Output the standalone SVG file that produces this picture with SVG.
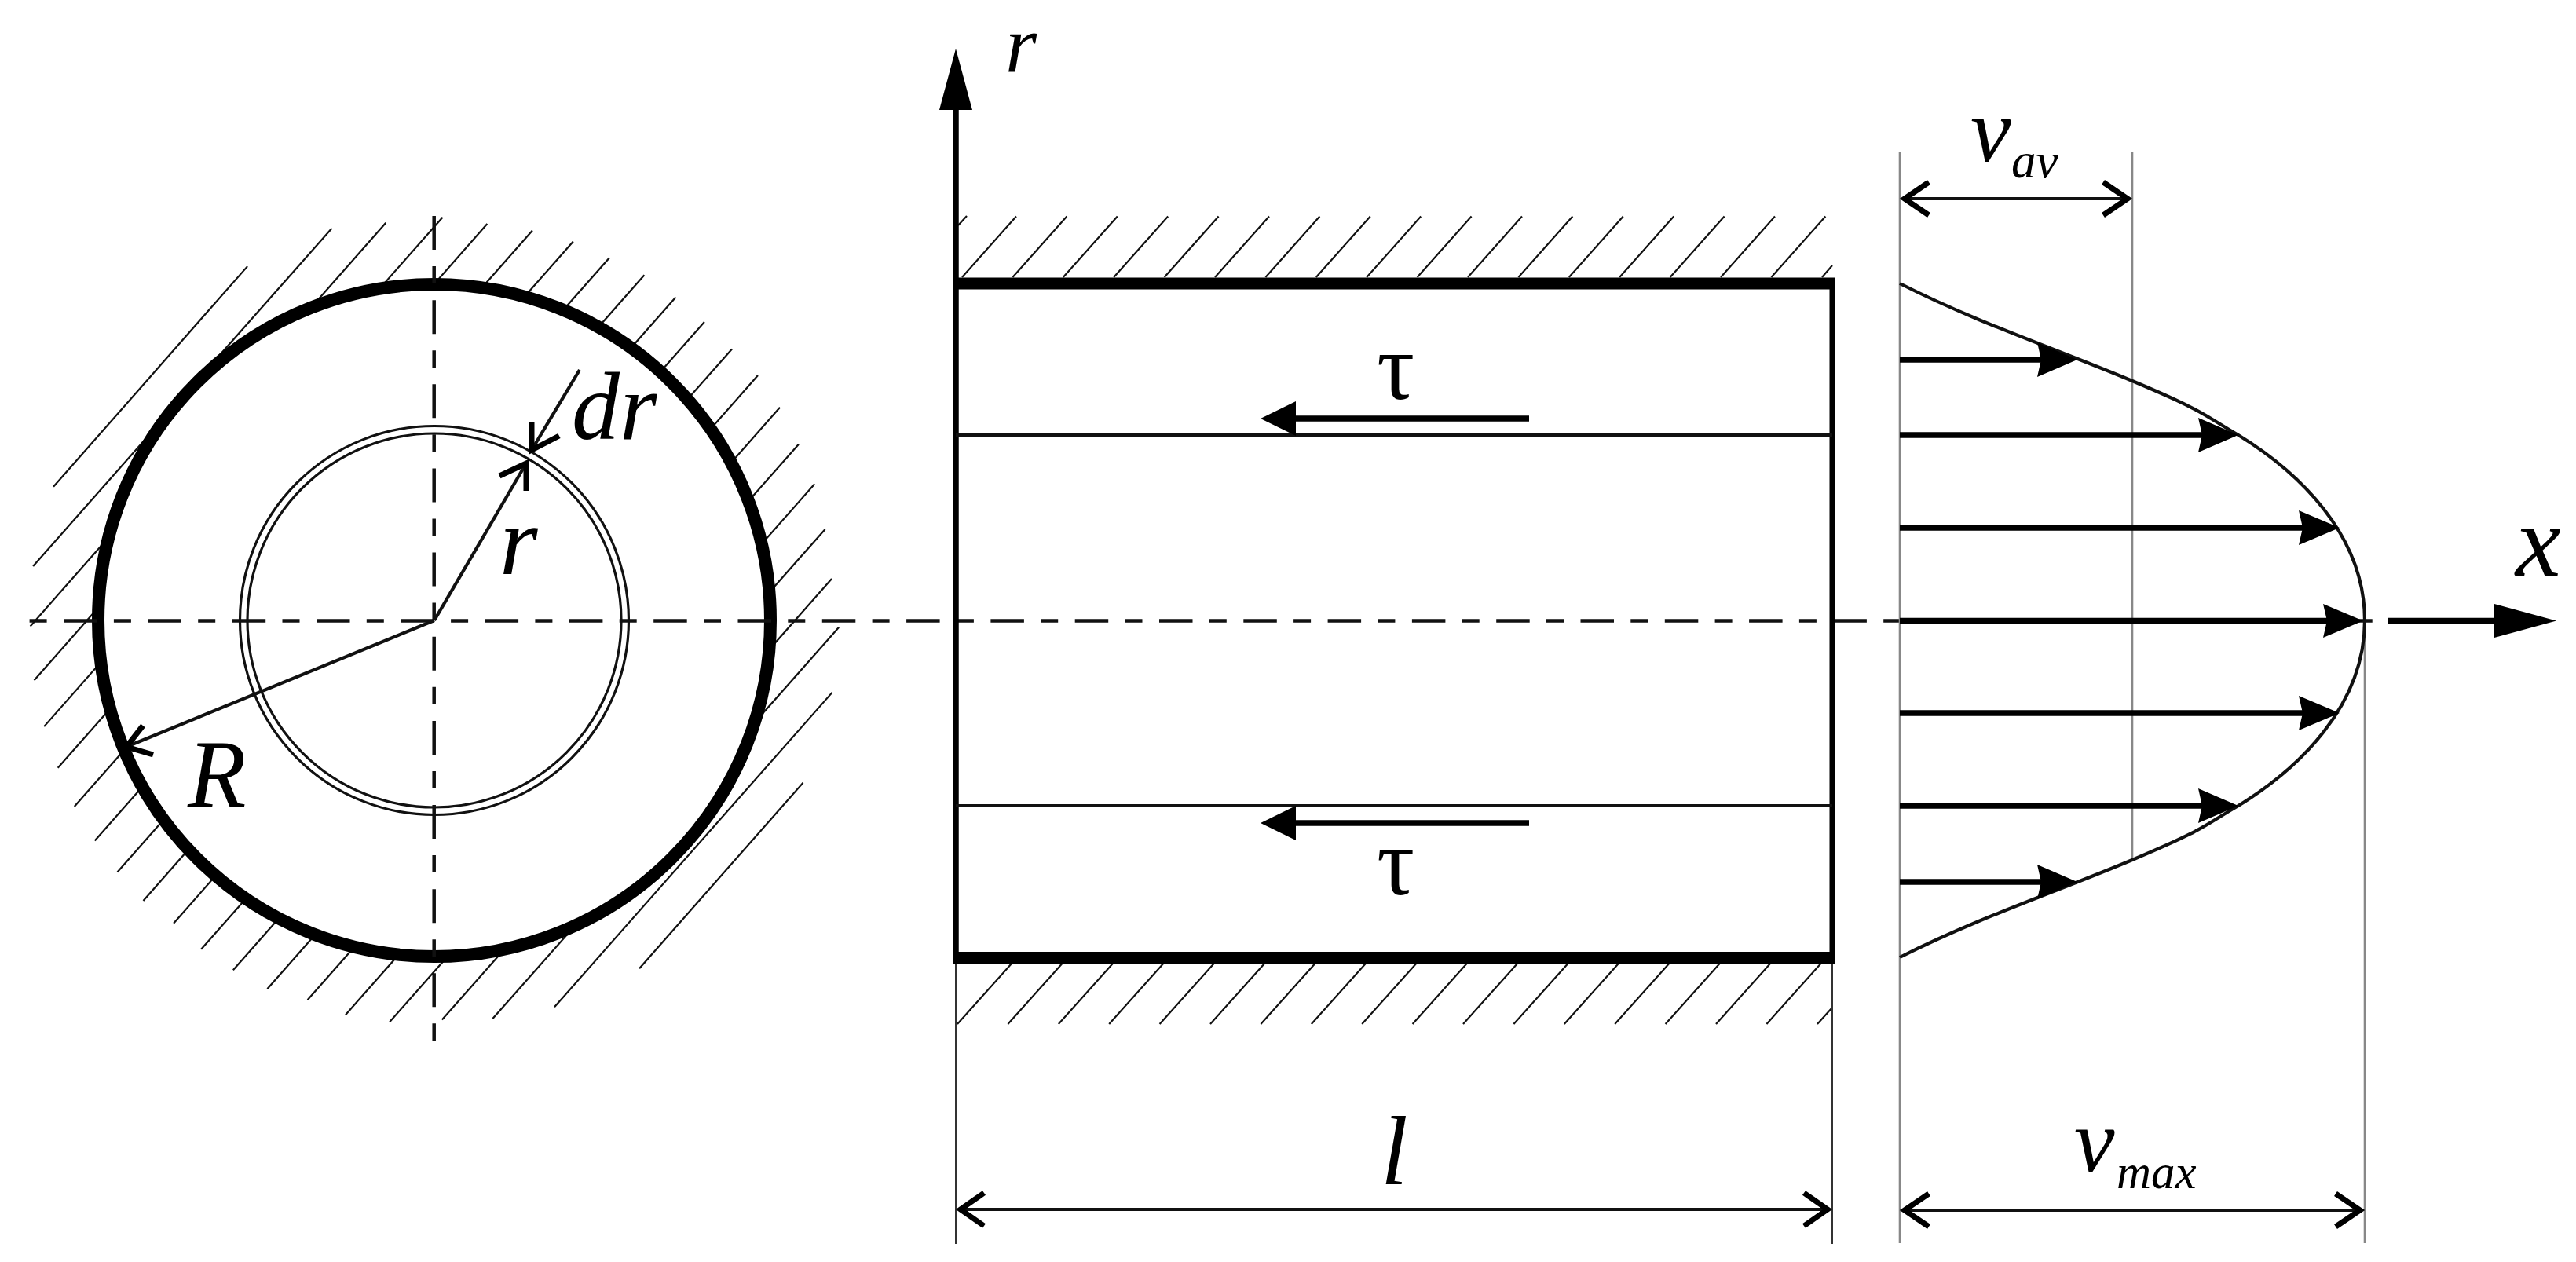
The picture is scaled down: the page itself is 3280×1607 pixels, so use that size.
<svg xmlns="http://www.w3.org/2000/svg" width="3280" height="1607" viewBox="0 0 3280 1607">
<style>
.h{stroke:#111;stroke-width:2.2;fill:none}
.z{stroke:#111;stroke-width:3.2;fill:none}
.ax{stroke:#111;stroke-width:4.5;fill:none}
.th{stroke:#000;stroke-width:7.5;fill:none}
.thin{stroke:#111;stroke-width:4.2;fill:none}
.ob{stroke:#000;stroke-width:7;fill:none}
.s{fill:#000;stroke:none}
.gr{stroke:#888;stroke-width:2.6;fill:none}
.ext{stroke:#333;stroke-width:2;fill:none}
.band{stroke:#000;stroke-width:15;fill:none}
text{font-family:"Liberation Serif","Times New Roman",serif;fill:#000}
.i{font-style:italic}
</style>
<rect width="3280" height="1607" fill="#fff"/>
<g id="pipe-section">
<g transform="translate(0 250) scale(.7018)" class="z">
<path d="M97 527L449 127M60 671L602 58M55 780L700 48M62 878L803 38M80 962L884 50M105 1037L966 62M135 1107L1040 82M172 1169L1106 111M213 1226L1169 143M260 1278L1226 183M315 1319L1278 228M365 1366L1328 277M423 1404L1375 325M485 1438L1415 383M558 1458L1449 450M627 1485L1478 522M707 1498L1497 604M802 1494L1509 694M894 1492L1522 782M1006 1471L1510 900M1160 1401L1457 1064"/>
</g>
<circle cx="553" cy="790" r="428" fill="#fff" stroke="#000" stroke-width="16"/>
<circle cx="553" cy="790" r="247.5" class="z"/>
<circle cx="553" cy="790" r="238" class="z"/>
<path class="ax" d="M552.7 275V1326" stroke-dasharray="43 21 22 21.15"/>
<path class="thin" d="M553 790L670 590"/>
<path class="ob" d="M636 606L670 590L670 625"/>
<path class="thin" d="M553 790L161 951"/>
<path class="ob" d="M182 924L161 951L195 961"/>
<path class="thin" d="M738 471L677 573"/>
<path class="ob" d="M677 538L677 573L712 555"/>
<text class="i" x="239" y="1027" font-size="122">R</text>
<text class="i" x="636" y="731" font-size="125">r</text>
<text class="i" x="728" y="559" font-size="122">dr</text>
</g>
<g id="axis-x">
<path class="ax" d="M37.6 790.5H3021" stroke-dasharray="22 21.5 42.5 21.3"/>
<path class="th" d="M3041 790.5H3180"/>
<path class="s" d="M3255 790.5L3176 769V812Z"/>
<text class="i" x="3203" y="733" font-size="130">x</text>
</g>
<g id="pipe-length">
<path class="h" d="M1220 287L1231 275M1225 353L1294 275.500M1289.400 353L1358.400 275.500M1353.800 353L1422.800 275.500M1418.200 353L1487.200 275.500M1482.600 353L1551.600 275.500M1547 353L1616 275.500M1611.400 353L1680.400 275.500M1675.800 353L1744.800 275.500M1740.200 353L1809.200 275.500M1804.600 353L1873.600 275.500M1869 353L1938 275.500M1933.400 353L2002.400 275.500M1997.800 353L2066.800 275.500M2062.200 353L2131.200 275.500M2126.600 353L2195.600 275.500M2191 353L2260 275.500M2255.400 353L2324.400 275.500M2320 353L2333 338"/>
<path class="h" d="M1219 1304L1288 1227M1283.400 1304L1352.400 1227M1347.800 1304L1416.800 1227M1412.200 1304L1481.200 1227M1476.600 1304L1545.600 1227M1541 1304L1610 1227M1605.400 1304L1674.400 1227M1669.800 1304L1738.800 1227M1734.200 1304L1803.200 1227M1798.600 1304L1867.600 1227M1863 1304L1932 1227M1927.400 1304L1996.400 1227M1991.800 1304L2060.800 1227M2056.200 1304L2125.200 1227M2120.600 1304L2189.600 1227M2185 1304L2254 1227M2249.400 1304L2318.400 1227M2314 1304L2333 1283"/>
<path class="th" d="M1217 140V1219"/>
<path class="s" d="M1217 62L1196 140H1238Z"/>
<path class="ob" d="M2333 361V1219"/>
<path class="thin" d="M1217 554H2333M1217 1026H2333"/>
<path class="band" d="M1214 361H2336M1214 1219.500H2336"/>
<path class="th" d="M1650 533H1947M1650 1048H1947"/>
<path class="s" d="M1605 533L1650 511V555ZM1605 1048L1650 1026V1070Z"/>
<text x="1777" y="508" font-size="120" text-anchor="middle">τ</text>
<text x="1777" y="1139" font-size="120" text-anchor="middle">τ</text>
<text class="i" x="1280" y="92" font-size="103">r</text>
<path class="ext" d="M1217 1227V1584M2333 1227V1584"/>
<path class="thin" d="M1222 1540H2328"/>
<path class="ob" d="M1253 1519L1223 1540L1253 1561M2297 1519L2327 1540L2297 1561"/>
<text class="i" x="1758" y="1508" font-size="125">l</text>
</g>
<g id="velocity-profile">
<path class="gr" d="M2419 194V1583M2715 194V1092M3011 790V1583"/>
<path class="thin" d="M2419 361C2520 412 2620 445 2715 485S2805 528 2850 554C2925 600 3011 680 3011 790C3011 900 2925 980 2850 1026C2805 1052 2810 1055 2715 1095C2620 1135 2520 1168 2419 1219"/>
<path class="th" d="M2419 458H2600M2419 554H2805M2419 672H2933M2419 790.500H2964M2419 908H2933M2419 1026H2805M2419 1123H2600"/>
<path class="s" d="M2645 458L2594 436L2599 458L2594 480ZM2850 554L2799 532L2804 554L2799 576ZM2979 672L2927 650L2932 672L2927 694ZM3009 790.500L2958 769L2963 790.500L2958 812ZM2979 908L2927 886L2932 908L2927 930ZM2850 1026L2799 1004L2804 1026L2799 1048ZM2645 1123L2594 1101L2599 1123L2594 1145Z"/>
<path class="thin" d="M2424 253H2710M2424 1541H3006"/>
<path class="ob" d="M2456 232L2425 253L2456 274M2678 232L2709 253L2678 274M2456 1520L2425 1541L2456 1562M2974 1520L3005 1541L2974 1562"/>
<text class="i" x="2509" y="205" font-size="116">v</text>
<text class="i" x="2561" y="226" font-size="63">av</text>
<text class="i" x="2641" y="1492" font-size="116">v</text>
<text class="i" x="2695" y="1513" font-size="61">max</text>
</g>
</svg>
